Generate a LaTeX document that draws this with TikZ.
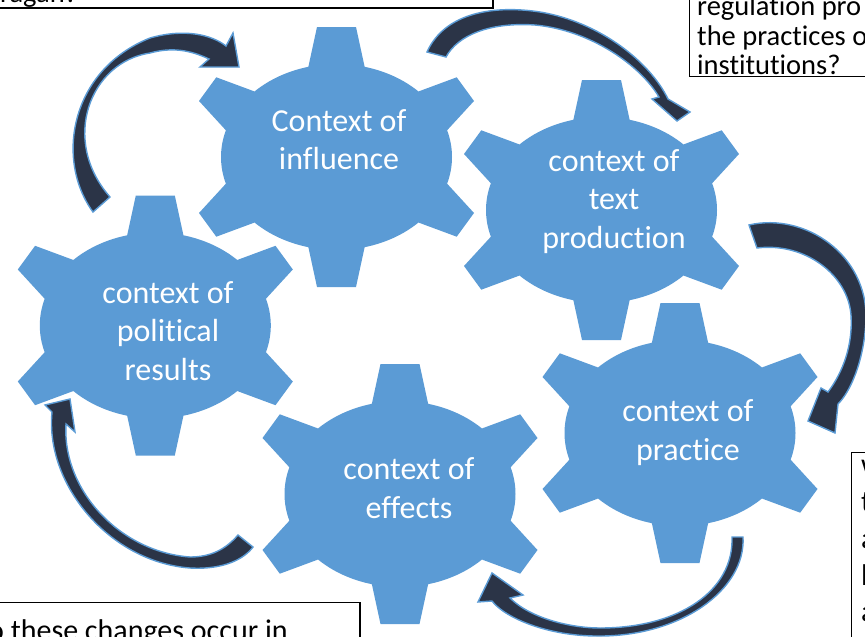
\documentclass[tikz,border=0pt]{standalone}
\usepackage{fontspec}
\setmainfont{Carlito}[Ligatures={NoCommon}]
\definecolor{gearblue}{HTML}{5B9BD5}
\definecolor{arrowdark}{HTML}{2B3447}
\begin{document}
\begin{tikzpicture}[x=1pt,y=-1pt,
  arrowshape/.style={fill=arrowdark, draw=gearblue, line width=1.4pt, line join=miter},
  gtext/.style={text=white, font=\fontsize{32}{38.5}\selectfont, anchor=base, inner sep=0pt},
  boxtext/.style={text=black, font=\fontsize{28.5}{29.5}\selectfont, anchor=base west, inner sep=0pt},
  boxtextb/.style={text=black, font=\fontsize{30}{36.6}\selectfont, anchor=base west, inner sep=0pt},
  textbox/.style={draw=black, line width=1.3pt},
  pics/gear/.style={code={
    \fill[gearblue] (28.14,-90.20) arc[start angle=-75.9, end angle=-44.8, x radius=115.5, y radius=93]
      -- (120.2,-79.7) -- (137.5,-56) -- (110.63,-26.73)
      arc[start angle=-16.7, end angle=16.7, x radius=115.5, y radius=93]
      -- (137.5,56) -- (120.2,79.7) -- (81.96,65.53)
      arc[start angle=44.8, end angle=75.9, x radius=115.5, y radius=93]
      -- (19.5,130) -- (-19.5,130) -- (-28.14,90.20)
      arc[start angle=104.1, end angle=135.2, x radius=115.5, y radius=93]
      -- (-120.2,79.7) -- (-137.5,56) -- (-110.63,26.73)
      arc[start angle=163.3, end angle=196.7, x radius=115.5, y radius=93]
      -- (-137.5,-56) -- (-120.2,-79.7) -- (-81.96,-65.53)
      arc[start angle=224.8, end angle=255.9, x radius=115.5, y radius=93]
      -- (-19.5,-130) -- (19.5,-130) -- cycle;
  }}
]
\useasboundingbox (0,0) rectangle (865,637);
\clip (0,0) rectangle (865,637);

% gear centres
\coordinate (ginf) at (336.5,157);
\coordinate (gprod) at (601.5,210);
\coordinate (gpol) at (155.3,325.5);
\coordinate (gprac) at (680,433);
\coordinate (geff) at (400,494);

\pic at (ginf) {gear};
\pic at (gprod) {gear};
\pic at (gpol) {gear};
\pic at (gprac) {gear};
\pic at (geff) {gear};

% gear texts
\node[gtext] (inf1) at (339,131) {Context of};
\node[gtext] (inf2) at (339,169.5) {influence};
\node[gtext] (prod1) at (614,171) {context of};
\node[gtext] (prod2) at (614,209.5) {text};
\node[gtext] (prod3) at (614,248) {production};
\node[gtext] (pol1) at (168,303.3) {context of};
\node[gtext] (pol2) at (168,341.8) {political};
\node[gtext] (pol3) at (168,380.3) {results};
\node[gtext] (prac1) at (688,421.7) {context of};
\node[gtext] (prac2) at (688,460.2) {practice};
\node[gtext] (eff1) at (409,479.5) {context of};
\node[gtext] (eff2) at (409,518) {effects};

% curved arrows
\filldraw[arrowshape] (93,212) .. controls (55,160) and (70,70) .. (150,38)
  .. controls (185,28) and (212,35) .. (226,46) -- (233,33) -- (239,67) -- (200,67) -- (209,59)
  .. controls (190,50) and (172,47) .. (150,53) .. controls (90,62) and (60,140) .. (110,197) -- cycle;
\filldraw[arrowshape] (427,52) .. controls (445,12) and (495,5) .. (540,12)
  .. controls (600,22) and (650,62) .. (668,99) -- (690,112) -- (677,121) -- (652,99) -- (659,97)
  .. controls (640,65) and (590,30) .. (535,25) .. controls (490,22) and (458,35) .. (446,57) -- cycle;
\filldraw[arrowshape] (749,225) .. controls (805,212) and (868,255) .. (866,320)
  .. controls (864,362) and (850,392) .. (838,404) -- (835,433) -- (808,421) -- (821,388) -- (828,392)
  .. controls (843,372) and (853,345) .. (851,315) .. controls (848,275) and (805,242) .. (757,248) -- cycle;
\filldraw[arrowshape] (743,537) .. controls (746,590) and (680,637) .. (597,636)
  .. controls (548,636) and (505,618) .. (492,601) -- (478,602) -- (492,573) -- (523,595) -- (510,598)
  .. controls (530,618) and (570,628) .. (600,628) .. controls (680,628) and (734,590) .. (732,537) -- cycle;
\filldraw[arrowshape] (238,535) .. controls (225,550) and (210,557) .. (190,557)
  .. controls (120,552) and (62,490) .. (66,424) -- (75,432) -- (70,399) -- (45,405) -- (52,412)
  .. controls (45,485) and (110,562) .. (190,568) .. controls (225,570) and (245,558) .. (253,547) -- cycle;

% partial text boxes
\draw[textbox] (-5,-5) rectangle (493,8);
\node[boxtext] (t1) at (0,2.5) {ragan?};
\draw[textbox] (689.3,-5) rectangle (875,76.7);
\node[boxtext] (t2a) at (697,15) {regulation pro};
\node[boxtext] (t2b) at (697,45) {the practices o};
\node[boxtext] (t2c) at (697,74) {institutions?};
\draw[textbox] (-5,602.7) rectangle (360,650);
\node[boxtextb] (t3) at (-12,640) {o these changes occur in};
\draw[textbox] (851.7,452.3) rectangle (880,650);
\node[boxtextb] (t4a) at (861,474) {w};
\node[boxtextb] (t4b) at (861,511) {t};
\node[boxtextb] (t4c) at (861,548) {a};
\node[boxtextb] (t4d) at (861,585) {l};
\node[boxtextb] (t4e) at (861,621) {a};
\end{tikzpicture}
\end{document}
